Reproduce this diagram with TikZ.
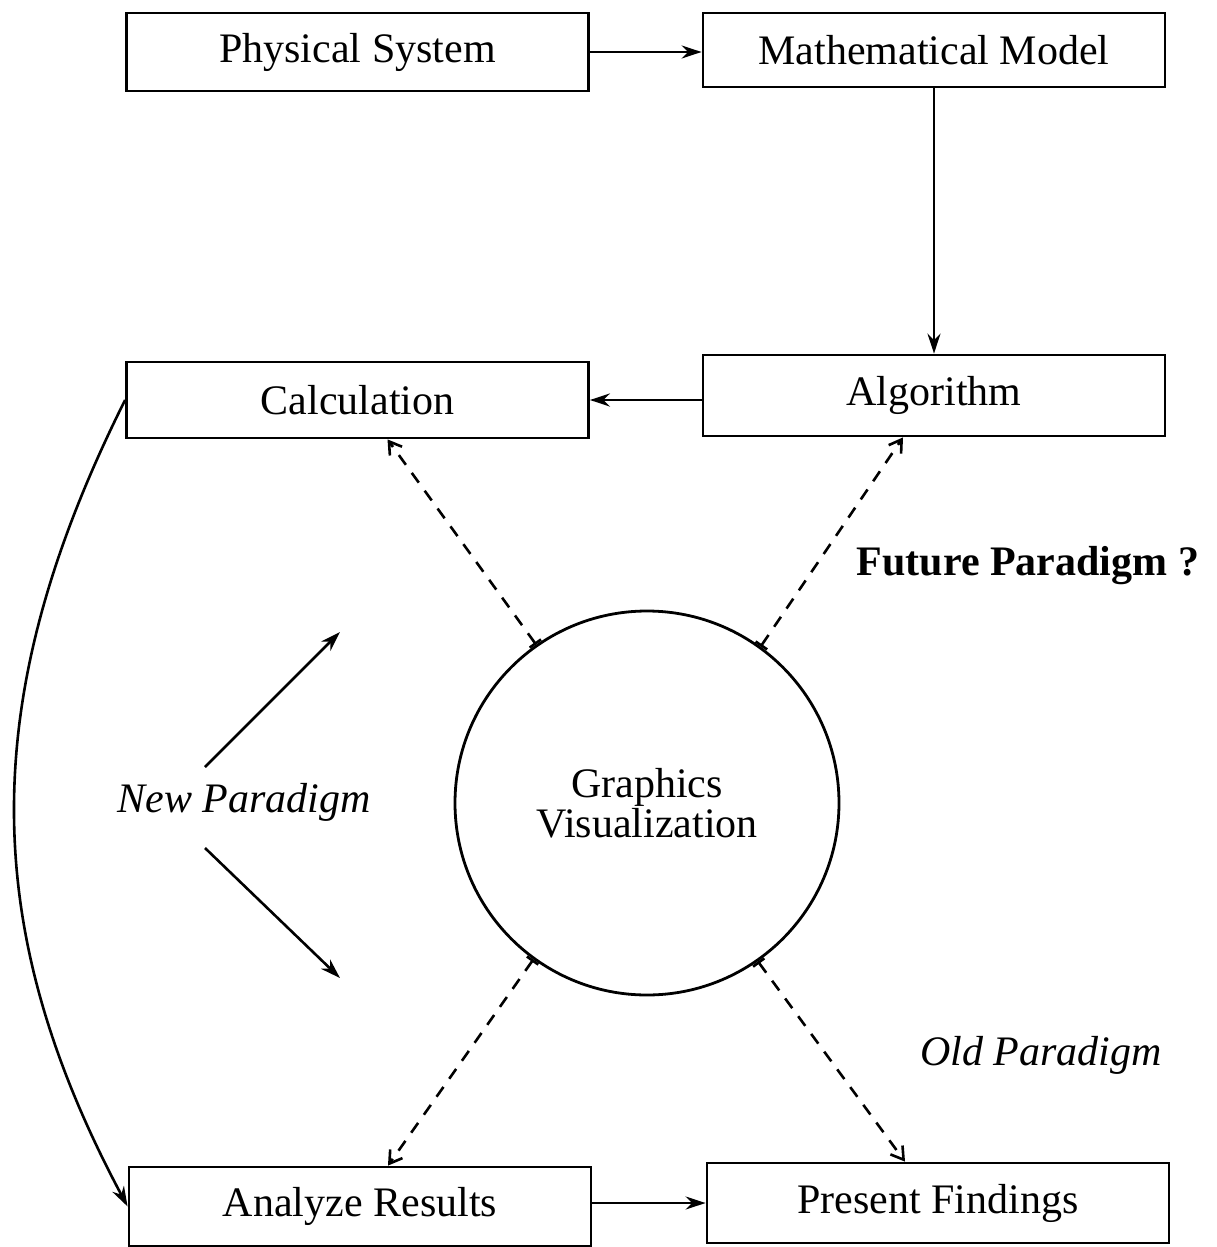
\documentclass[tikz,border=0pt]{standalone}
\usepackage{fontspec}
\setmainfont{Liberation Serif}
\usetikzlibrary{arrows.meta}
\begin{document}
\begin{tikzpicture}[x=0.5pt,y=-0.5pt,
  font=\fontsize{21}{20}\selectfont,
  box/.style={draw,line width=1.4pt,minimum width=231pt,minimum height=39pt,inner sep=0pt},
  solidarrow/.style={line width=1.3pt,-{Stealth[length=10pt,width=6.5pt]}},
  dasharrow/.style={line width=1.3pt,dash pattern=on 6pt off 5pt,
    {Bar[width=7pt,line width=1.3pt]}-{Straight Barb[length=6pt,width=7.5pt,line width=1.3pt]}},
  lbl/.style={inner sep=0pt}]
\useasboundingbox (0,0) rectangle (1216,1247);
\node[box] (phys) at (357.5,52) {Physical System};
\node[box,minimum height=37pt] (math) at (934,50) {Mathematical Model};
\node[box,minimum height=38pt] (calc) at (357.5,400) {Calculation};
\node[box,minimum height=40.5pt] (alg) at (934,395.5) {Algorithm};
\node[box,minimum height=39.5pt] (anal) at (360,1206.5) {Analyze Results};
\node[box,minimum height=40pt] (pres) at (938,1203) {Present Findings};
\node[draw,circle,line width=1.4pt,minimum size=192pt,inner sep=0pt,align=center] (gv) at (647,803) {Graphics\\Visualization};

\node[lbl,font=\fontsize{21}{20}\selectfont\bfseries] (fut) at (1028,566) {Future Paradigm ?};
\node[lbl,font=\fontsize{21}{20}\selectfont\itshape] (newp) at (244,802) {New Paradigm};
\node[lbl,font=\fontsize{21}{20}\selectfont\itshape] (oldp) at (1041,1055) {Old Paradigm};

\draw[solidarrow] (phys.east) -- (phys.east -| math.west);
\draw[solidarrow] (math.south) -- (alg.north);
\draw[solidarrow] (calc.east -| alg.west) -- (calc.east);
\draw[solidarrow] (pres.west -| anal.east) -- (pres.west);
\draw[solidarrow] (calc.west) .. controls (-25,700) and (-20,930) .. (anal.west);

\coordinate (n1s) at (205,767);
\coordinate (n1e) at (340,632);
\coordinate (n2s) at (205,848);
\coordinate (n2e) at (340,978);
\draw[solidarrow] (n1s) -- (n1e);
\draw[solidarrow] (n2s) -- (n2e);

\draw[dasharrow] (gv.125.8) -- ([xshift=15pt]calc.south);
\draw[dasharrow] (gv.54.4) -- ([xshift=-15.5pt]alg.south);
\draw[dasharrow] (gv.234.4) -- ([xshift=14pt]anal.north);
\draw[dasharrow] (gv.305.9) -- ([xshift=-16.5pt]pres.north);
\end{tikzpicture}
\end{document}
